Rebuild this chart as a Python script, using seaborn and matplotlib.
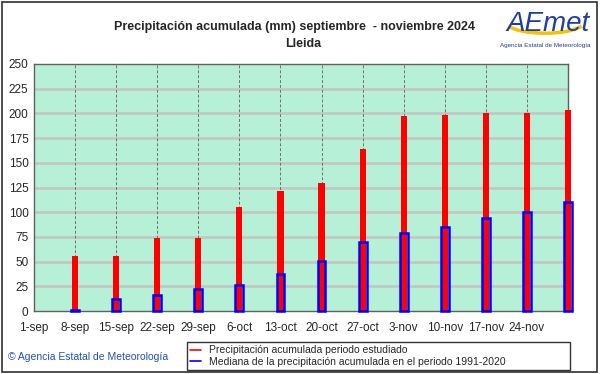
import numpy as np
import pandas as pd
import seaborn as sns
import matplotlib.pyplot as plt
from matplotlib.patches import Rectangle, Arc
from matplotlib.lines import Line2D

# data
week_labels = ['1-sep', '8-sep', '15-sep', '22-sep', '29-sep', '6-oct', '13-oct',
               '20-oct', '27-oct', '3-nov', '10-nov', '17-nov', '24-nov']
# bars sit at week 1 (8-sep) ... week 13 (1-dec)
week_pos = [1, 2, 3, 4, 5, 6, 7, 8, 9, 10, 11, 12, 13]
precip_2024 = [55.6, 55.6, 73.6, 73.6, 105.3, 121.5, 129.2, 164.0, 197.7, 198.4, 200.0, 200.4, 203.4]
median_1991_2020 = [1.5, 11.8, 16.2, 21.9, 26.0, 37.8, 50.3, 69.5, 79.0, 85.4, 94.2, 100.2, 110.6]

df = pd.DataFrame({'week': week_pos, 'precip': precip_2024, 'median': median_1991_2020})

sns.set_style('white')
plt.rcParams['font.family'] = ['Liberation Sans', 'DejaVu Sans']

fig = plt.figure(figsize=(6.01, 3.74), dpi=100)
ax = fig.add_axes([34 / 601, 1 - 311 / 374, 534 / 601, 247 / 374])
ax.set_facecolor('#b6f0d6')

# grid
for y in range(25, 250, 25):
    ax.axhline(y, color='#c4c4c4', lw=1.8, zorder=0)
for x in range(1, 13):
    ax.axvline(x, color='#707070', lw=0.7, ls=(0, (3, 2)), zorder=0)

# red bars: accumulated precipitation, blue outline bars: median
sns.barplot(data=df, x='week', y='precip', native_scale=True, width=0.15,
            color='#ff0000', saturation=1, linewidth=0, ax=ax, zorder=3, clip_on=False)
sns.barplot(data=df, x='week', y='median', native_scale=True, width=0.19,
            color='#0000ff', fill=False, linewidth=1.8, ax=ax, zorder=4, clip_on=False)

ax.set_xlim(0, 13)
ax.set_ylim(0, 250)
ax.set_xticks(range(13))
ax.set_xticklabels(week_labels, fontsize=8.5)
ax.set_yticks(range(0, 251, 25))
ax.set_yticklabels([str(v) for v in range(0, 251, 25)], fontsize=8.5)
ax.tick_params(axis='x', length=0, pad=8)
ax.tick_params(axis='y', length=0, pad=4)
ax.set_xlabel('')
ax.set_ylabel('')
for s in ax.spines.values():
    s.set_color('#606060')
    s.set_linewidth(1.0)

# titles
fig.text(295 / 601, 1 - 27 / 374, 'Precipitación acumulada (mm) septiembre  - noviembre 2024',
         ha='center', va='center', fontsize=9, fontweight='bold')
fig.text(303 / 601, 1 - 44 / 374, 'Lleida', ha='center', va='center', fontsize=9, fontweight='bold')

# logo
fig.text(548 / 601, 1 - 24 / 374, 'AEmet', ha='center', va='center', fontsize=20,
         color='#1f3fa0', style='italic')
fig.add_artist(Arc((545 / 601, 1 - 22 / 374), 0.13, 0.06, theta1=190, theta2=350,
                   transform=fig.transFigure, color='#f5c400', lw=2.5))
fig.text(545 / 601, 1 - 46 / 374, 'Agencia Estatal de Meteorología', ha='center', va='center',
         fontsize=4.5, color='#1f3fa0')

# copyright
fig.text(8 / 601, 1 - 357 / 374, '© Agencia Estatal de Meteorología', ha='left', va='center',
         fontsize=7.5, color='#2050c0')

# legend
handles = [Line2D([], [], color='#ff0000', lw=1.2), Line2D([], [], color='#0000ff', lw=1.2)]
leg = fig.legend(handles, ['Precipitación acumulada periodo estudiado',
                           'Mediana de la precipitación acumulada en el periodo 1991-2020'],
                 loc='lower left', bbox_to_anchor=(187 / 601, 1 - 370 / 374, 383 / 601, 34 / 374),
                 mode='expand', fontsize=7.5, frameon=True, fancybox=False, handlelength=1.0,
                 handletextpad=0.8, labelspacing=0.15, borderpad=0.3, borderaxespad=0)
leg.get_frame().set_edgecolor('black')
leg.get_frame().set_linewidth(1.0)

# figure border
fig.add_artist(Rectangle((2 / 601, 2 / 374), 595 / 601, 370 / 374, transform=fig.transFigure,
                         fill=False, edgecolor='#303030', lw=1.2))

fig.savefig('out.png', dpi=100)
